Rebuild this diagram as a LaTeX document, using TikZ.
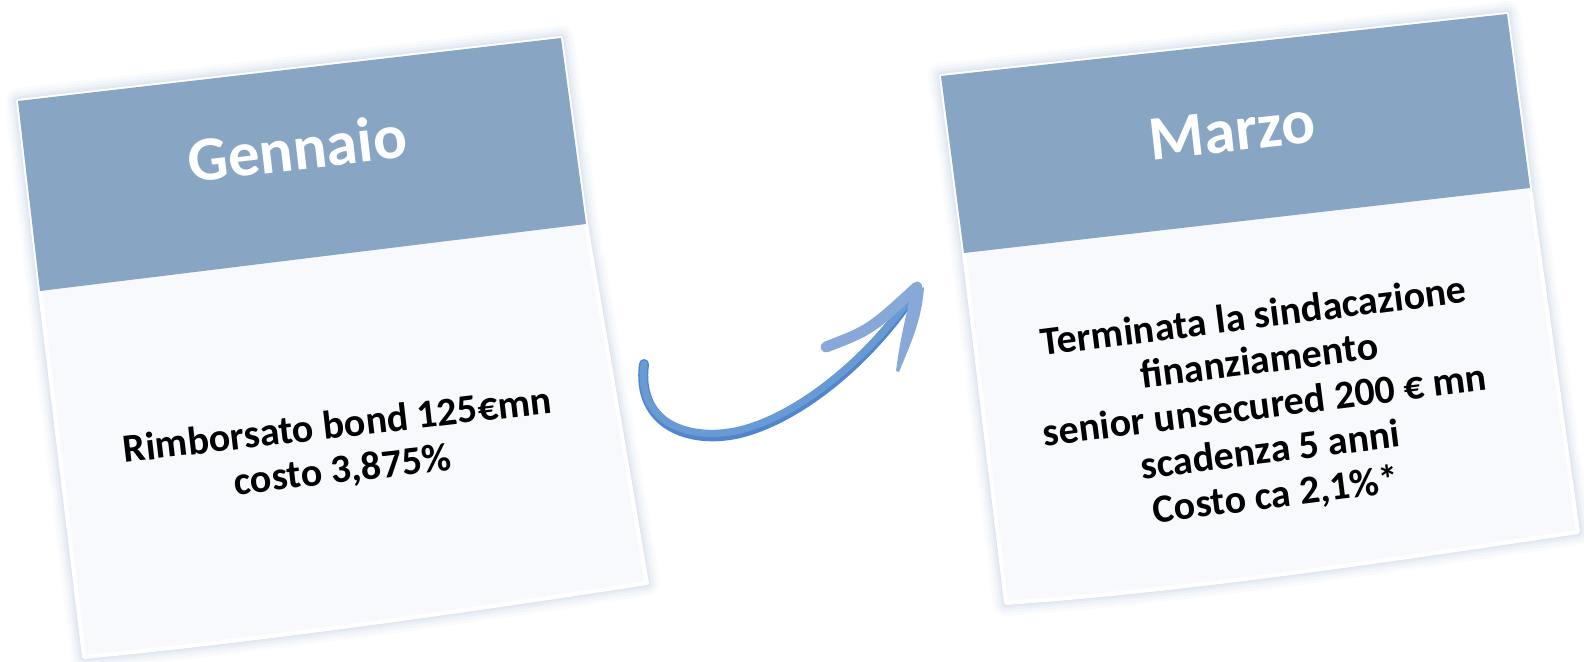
\documentclass[tikz,border=0pt]{standalone}
\usepackage{fontspec}
\setmainfont{Carlito}
\definecolor{hdr}{RGB}{136,165,196}
\definecolor{paper}{RGB}{247,249,252}
\definecolor{halo}{RGB}{150,175,212}
\definecolor{shaft}{RGB}{104,154,211}
\definecolor{shaftedge}{RGB}{80,134,206}
\definecolor{barb}{RGB}{136,168,215}
\tikzset{
  hdrtext/.style={text=white, font=\bfseries\fontsize{31.5}{36}\selectfont, inner sep=0pt},
  bodytext/.style={text=black, font=\bfseries\fontsize{20}{22.5}\selectfont, align=center, inner sep=0pt},
  halostroke/.style={draw=halo, line join=round},
}
\newcommand\cardApath{(18,101) -- (561,38) -- (586,224) -- (647,583) .. controls (460,612) and (260,640) .. (84,657) -- (40,291) -- cycle}
\newcommand\cardBpath{(941,76) -- (1507,14) -- (1530,188) -- (1578,532) .. controls (1390,560) and (1190,590) .. (1006,603) -- (964,253) -- cycle}
\begin{document}
\begin{tikzpicture}[x=0.5pt,y=-0.5pt]
\useasboundingbox (0,0) rectangle (1584,662);
\fill[white] (0,0) rectangle (1584,662);
% halos
\foreach \w/\o in {13/0.04,10/0.05,7/0.07,4.5/0.1,2.5/0.15}{
  \draw[halostroke, line width=\w pt, opacity=\o] \cardApath;
  \draw[halostroke, line width=\w pt, opacity=\o] \cardBpath;
}
% card A
\filldraw[fill=paper, draw=white, line width=2pt, line join=round] \cardApath;
\fill[hdr] (18,101) -- (561,38) -- (586,224) -- (40,291) -- cycle;
% card B
\filldraw[fill=paper, draw=white, line width=2pt, line join=round] \cardBpath;
\fill[hdr] (941,76) -- (1507,14) -- (1530,188) -- (964,253) -- cycle;
% texts
\node[hdrtext, rotate=6.6] (gen) at (297,148) {Gennaio};
\node[bodytext, rotate=6.6] (rimb) at (340,449) {Rimborsato bond 125€mn\\costo 3,875\%};
\node[hdrtext, rotate=6.3] (mar) at (1232,131) {Marzo};
\node[bodytext, rotate=7.2] (term) at (1265,407) {Terminata la sindacazione\\finanziamento\\senior unsecured 200 € mn\\scadenza 5 anni\\Costo ca 2,1\%*};
% arrow
\coordinate (ast) at (644,364);
\coordinate (atip) at (914,293);
\coordinate (btip) at (917,287);
\coordinate (bend) at (826,347);
\draw[shaftedge, line width=5pt, line cap=round] (ast) .. controls (636,425) and (690,445) .. (740,433) .. controls (800,418) and (870,360) .. (atip);
\draw[shaft, line width=3.6pt, line cap=round] (ast) .. controls (636,423) and (690,442) .. (740,430) .. controls (800,415) and (868,358) .. (atip);
\draw[barb, line width=5.5pt, line cap=round] (bend) .. controls (870,330) .. (btip);
\fill[barb] (924,287) .. controls (922,320) and (910,345) .. (899,372) -- (896,371) .. controls (900,340) and (906,315) .. (911,295) -- cycle;
\end{tikzpicture}
\end{document}
